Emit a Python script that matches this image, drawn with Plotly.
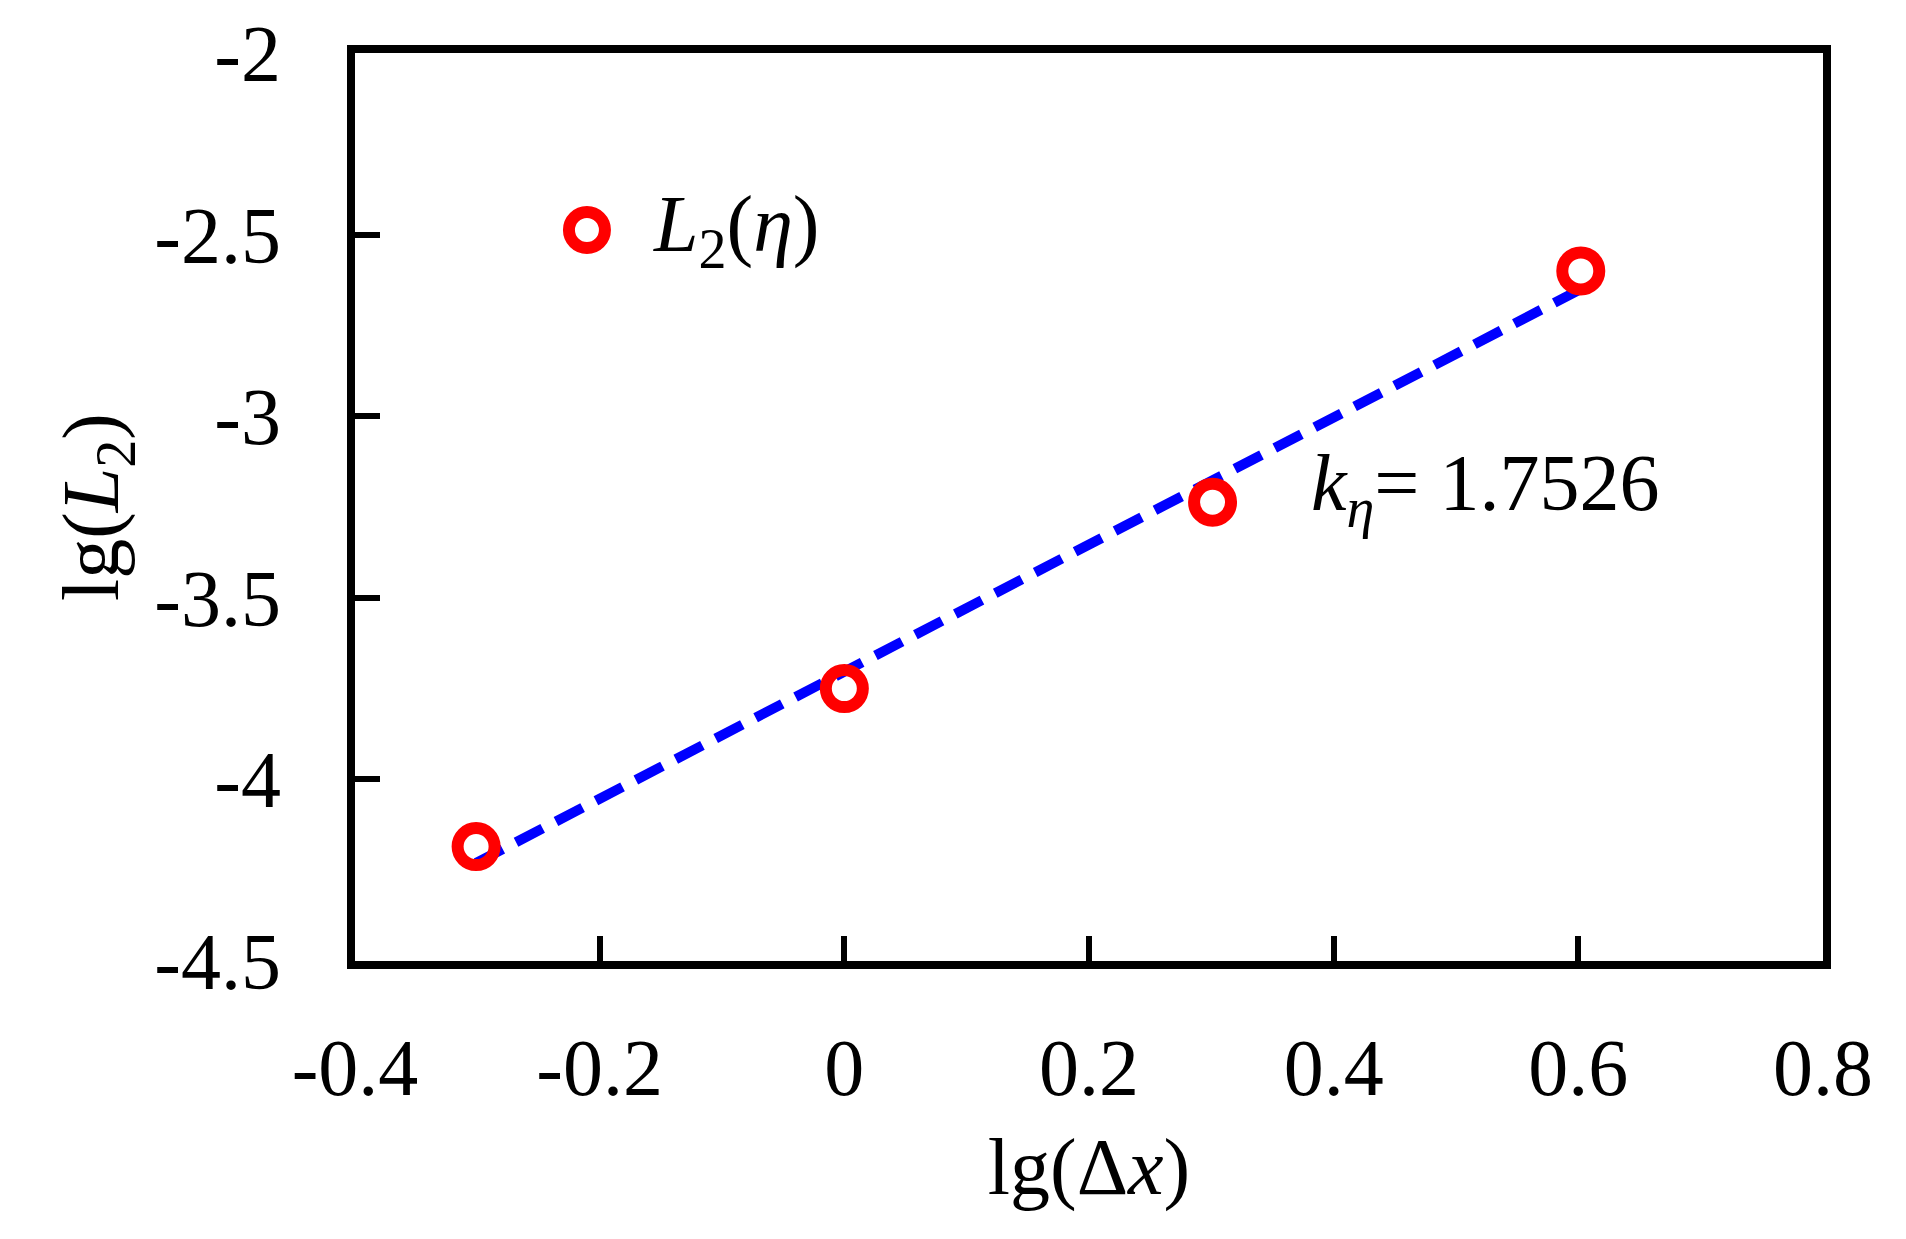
import plotly.graph_objects as go

# Data
x_vals = [-0.301, 0.0, 0.301, 0.602]
y_vals = [-4.185, -3.75, -3.237, -2.60]
fit_x = [-0.301, 0.602]
fit_y = [-4.23, -2.65]
x_ticks = [-0.4, -0.2, 0, 0.2, 0.4, 0.6, 0.8]
x_tick_labels = ["-0.4", "-0.2", "0", "0.2", "0.4", "0.6", "0.8"]
y_ticks = [-4.5, -4, -3.5, -3, -2.5, -2]
y_tick_labels = ["-4.5", "-4", "-3.5", "-3", "-2.5", "-2"]
series_name = "<i>L</i><sub>2</sub>(<i>η</i>)"
slope_label = "<i>k</i><sub><i>η</i></sub>= 1.7526"

FONT = "Liberation Serif"
FS = 80
RED = "#ff0000"
BLUE = "#0000ff"

fig = go.Figure()
fig.add_trace(go.Scatter(
    x=fit_x, y=fit_y, mode="lines", showlegend=False,
    line=dict(color=BLUE, width=10, dash="30px,15px"),
))
fig.add_trace(go.Scatter(
    x=x_vals, y=y_vals, mode="markers", name=series_name, showlegend=False,
    marker=dict(symbol="circle-open", size=37, color=RED,
                line=dict(color=RED, width=12)),
))

# legend key (layout shape) and legend text
leg_x, leg_y = 0.158, 0.805
fig.add_shape(type="circle", xref="paper", yref="paper",
              xsizemode="pixel", ysizemode="pixel",
              xanchor=leg_x, yanchor=leg_y, x0=-18, x1=18, y0=-18, y1=18,
              line=dict(color=RED, width=12), fillcolor="rgba(0,0,0,0)")
fig.add_annotation(x=0.2017, y=leg_y, xref="paper", yref="paper", text=series_name,
                   showarrow=False, xanchor="left", yanchor="middle",
                   font=dict(family=FONT, size=FS, color="black"))

fig.add_annotation(x=0.38, y=-3.2, xref="x", yref="y", text=slope_label,
                   showarrow=False, xanchor="left", yanchor="middle",
                   font=dict(family=FONT, size=FS, color="black"))

fig.update_layout(
    width=1906, height=1239,
    paper_bgcolor="white", plot_bgcolor="white",
    margin=dict(l=347, r=91, t=45, b=286),
    font=dict(family=FONT, size=FS, color="black"),
    showlegend=False,
)
fig.update_xaxes(
    range=[-0.4, 0.8], tickvals=x_ticks, ticktext=x_tick_labels,
    showgrid=False, zeroline=False, showline=True, linecolor="black",
    linewidth=8, mirror=True, ticks="inside", ticklen=25, tickwidth=6,
    tickcolor="black", ticklabelstandoff=30, automargin=False,
    title=dict(text="lg(Δ<i>x</i>)", font=dict(family=FONT, size=FS), standoff=30),
)
fig.update_yaxes(
    range=[-4.5, -2], tickvals=y_ticks, ticktext=y_tick_labels,
    showgrid=False, zeroline=False, showline=True, linecolor="black",
    linewidth=8, mirror=True, ticks="inside", ticklen=25, tickwidth=6,
    tickcolor="black", ticklabelstandoff=50, automargin=False,
    title=dict(text="lg(<i>L</i><sub>2</sub>)", font=dict(family=FONT, size=FS), standoff=12),
)

fig.write_html("out.html")
